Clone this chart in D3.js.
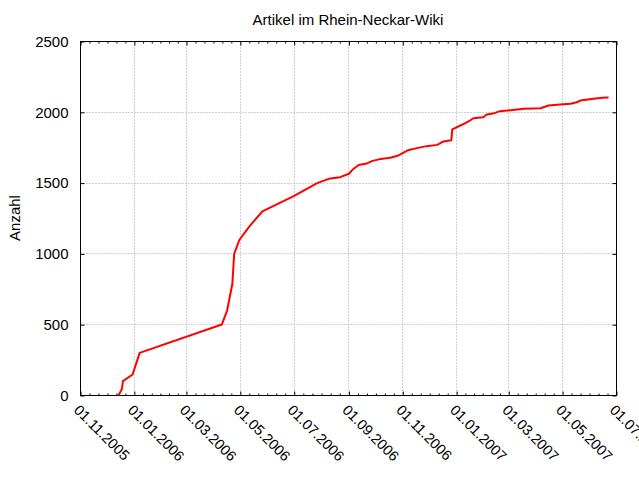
<!DOCTYPE html>
<html lang="de">
  <head>
    <meta charset="UTF-8" />
    <title>Artikel im Rhein-Neckar-Wiki</title>
    <script src="https://d3js.org/d3.v7.min.js"></script>
    <style>
      body {
        margin: 0;
        padding: 0;
        background: #fff;
      }
      svg text {
        font-family: "Liberation Sans", Arial, sans-serif;
        font-size: 15px;
        fill: #000;
      }
      .grid line {
        stroke: #a0a0a0;
        stroke-width: 1;
        stroke-dasharray: 1, 2;
      }
    </style>
  </head>
  <body>
    <div id="chart"></div>
    <script>
      // Datum und Anzahl Artikel
      const dates = [
        "2005-12-14", "2005-12-18", "2005-12-19", "2005-12-30", "2006-01-07",
        "2006-04-10", "2006-04-16", "2006-04-22", "2006-04-24", "2006-04-30",
        "2006-05-12", "2006-05-26", "2006-07-01", "2006-07-27", "2006-08-09",
        "2006-08-22", "2006-09-01", "2006-09-06", "2006-09-12", "2006-09-20",
        "2006-09-27", "2006-10-07", "2006-10-18", "2006-10-27", "2006-11-06",
        "2006-11-17", "2006-11-28", "2006-12-10", "2006-12-17", "2006-12-26",
        "2006-12-27", "2007-01-07", "2007-01-16", "2007-01-20", "2007-01-31",
        "2007-02-04", "2007-02-11", "2007-02-19", "2007-03-03", "2007-03-18",
        "2007-04-06", "2007-04-15", "2007-04-28", "2007-05-10", "2007-05-17",
        "2007-05-21", "2007-06-05", "2007-06-15", "2007-06-22"
      ];
      const counts = [
        0, 47, 101, 148, 301,
        501, 600, 789, 1000, 1100,
        1200, 1300, 1410, 1500, 1530,
        1542, 1566, 1600, 1628, 1636,
        1655, 1671, 1679, 1695, 1730,
        1747, 1761, 1770, 1794, 1803,
        1880, 1912, 1942, 1958, 1965,
        1984, 1991, 2008, 2015, 2025,
        2029, 2048, 2055, 2060, 2071,
        2083, 2095, 2102, 2104
      ];
      const yTicks = [0, 500, 1000, 1500, 2000, 2500];
      const xTickDates = [
        "2005-11-01", "2006-01-01", "2006-03-01", "2006-05-01", "2006-07-01",
        "2006-09-01", "2006-11-01", "2007-01-01", "2007-03-01", "2007-05-01",
        "2007-07-01"
      ];

      const width = 639;
      const height = 479;
      const margin = { top: 41, right: 23, bottom: 84, left: 80 };
      const innerW = width - margin.left - margin.right;
      const innerH = height - margin.top - margin.bottom;

      const parse = d3.utcParse("%Y-%m-%d");
      const fmt = d3.utcFormat("%d.%m.%Y");
      const data = dates.map((d, i) => ({ date: parse(d), value: counts[i] }));
      const xTicks = xTickDates.map(parse);

      const x = d3
        .scaleUtc()
        .domain([xTicks[0], xTicks[xTicks.length - 1]])
        .range([0, innerW]);
      const y = d3.scaleLinear().domain([0, 2500]).range([innerH, 0]);

      // 5 Zwischenstriche je Intervall
      const minorTicks = [];
      for (let i = 0; i < xTicks.length - 1; i++) {
        const a = +xTicks[i];
        const b = +xTicks[i + 1];
        for (let k = 1; k < 6; k++) minorTicks.push(new Date(a + ((b - a) * k) / 6));
      }

      const svg = d3
        .select("#chart")
        .append("svg")
        .attr("width", width)
        .attr("height", height);

      const g = svg
        .append("g")
        .attr("transform", `translate(${margin.left + 0.5},${margin.top + 0.5})`);

      // Gitter
      const grid = g.append("g").attr("class", "grid");
      grid
        .selectAll("line.gx")
        .data(xTicks.slice(1, -1))
        .enter()
        .append("line")
        .attr("x1", (d) => Math.round(x(d)))
        .attr("x2", (d) => Math.round(x(d)))
        .attr("y1", 0)
        .attr("y2", innerH);
      grid
        .selectAll("line.gy")
        .data(yTicks.slice(1, -1))
        .enter()
        .append("line")
        .attr("x1", 0)
        .attr("x2", innerW)
        .attr("y1", (d) => Math.round(y(d)))
        .attr("y2", (d) => Math.round(y(d)));

      // Achsen (Striche nach innen, gespiegelt)
      const axBottom = g
        .append("g")
        .attr("transform", `translate(0,${innerH})`)
        .call(d3.axisBottom(x).tickValues(xTicks).tickSize(-4).tickFormat(""));
      const axBottomMinor = g
        .append("g")
        .attr("transform", `translate(0,${innerH})`)
        .call(d3.axisBottom(x).tickValues(minorTicks).tickSize(-2).tickFormat(""));
      const axTop = g
        .append("g")
        .call(d3.axisTop(x).tickValues(xTicks).tickSize(-4).tickFormat(""));
      const axTopMinor = g
        .append("g")
        .call(d3.axisTop(x).tickValues(minorTicks).tickSize(-2).tickFormat(""));
      const axLeft = g
        .append("g")
        .call(
          d3
            .axisLeft(y)
            .tickValues(yTicks)
            .tickSize(-4)
            .tickPadding(12)
            .tickFormat(d3.format("d"))
        );
      const axRight = g
        .append("g")
        .attr("transform", `translate(${innerW},0)`)
        .call(d3.axisRight(y).tickValues(yTicks).tickSize(-4).tickFormat(""));

      [axBottom, axBottomMinor, axTop, axTopMinor, axLeft, axRight].forEach((a) => {
        a.select(".domain").remove();
        a.selectAll("line").attr("stroke", "#000");
      });
      axLeft.selectAll("text").style("font-size", "15px").attr("fill", "#000");

      // Datumsbeschriftung, um 45 Grad gedreht
      g.append("g")
        .selectAll("text")
        .data(xTicks)
        .enter()
        .append("text")
        .attr("transform", (d) => `translate(${x(d)},${innerH + 8}) rotate(45)`)
        .attr("dy", "0.72em")
        .attr("text-anchor", "start")
        .style("font-size", "14.5px")
        .text((d) => fmt(d));

      // Rahmen
      g.append("rect")
        .attr("width", innerW)
        .attr("height", innerH)
        .attr("fill", "none")
        .attr("stroke", "#000");

      // Kurve
      const line = d3
        .line()
        .x((d) => x(d.date))
        .y((d) => y(d.value));
      g.append("path")
        .datum(data)
        .attr("d", line)
        .attr("fill", "none")
        .attr("stroke", "#ff0000")
        .attr("stroke-width", 2)
        .attr("stroke-linejoin", "round");

      // Titel und Achsentitel
      svg
        .append("text")
        .attr("x", margin.left + innerW / 2)
        .attr("y", 25)
        .attr("text-anchor", "middle")
        .text("Artikel im Rhein-Neckar-Wiki");
      svg
        .append("text")
        .attr("transform", `translate(20,${margin.top + innerH / 2}) rotate(-90)`)
        .attr("text-anchor", "middle")
        .text("Anzahl");
    </script>
  </body>
</html>
